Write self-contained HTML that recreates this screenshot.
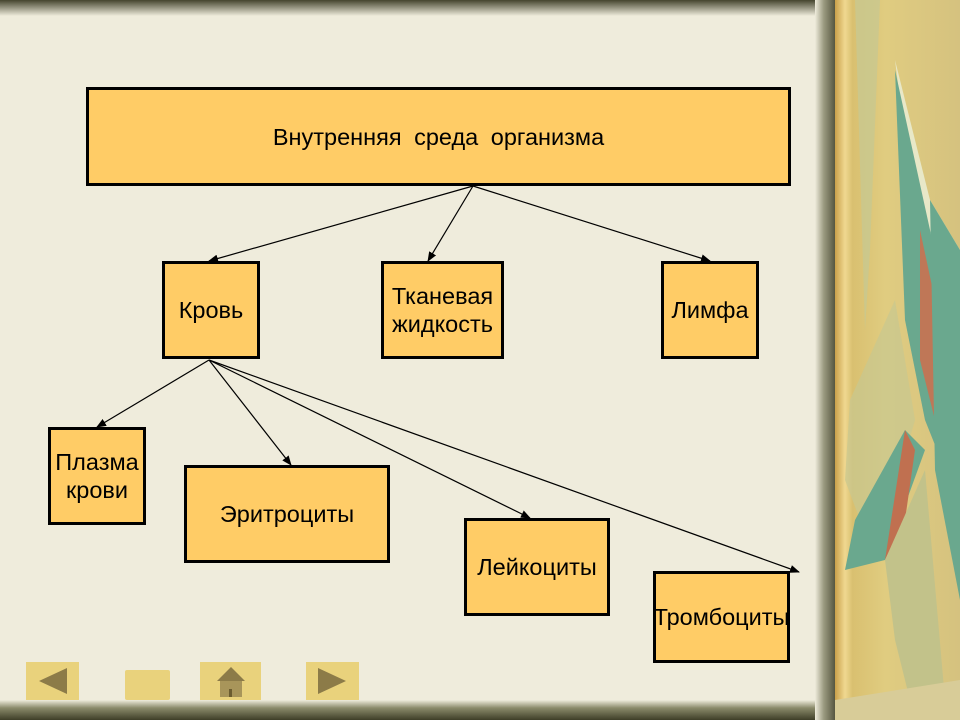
<!DOCTYPE html>
<html><head><meta charset="utf-8"><style>
body{margin:0;width:960px;height:720px;overflow:hidden;position:relative;background:#efecdc;font-family:"Liberation Sans",sans-serif}
.b{position:absolute;box-sizing:border-box;background:#ffcc66;border:3px solid #000;display:flex;align-items:center;justify-content:center;text-align:center;font-size:23.5px;line-height:28px;color:#000;white-space:nowrap}
.nav{position:absolute;background:#e9d27c}
</style></head><body>
<div style="position:absolute;left:0;top:0;width:835px;height:16px;background:linear-gradient(#45452e,#efecdc)"></div>
<div style="position:absolute;left:0;top:700px;width:835px;height:20px;background:linear-gradient(#efecdc,#8a8a6a 40%,#3e3e28)"></div>
<div style="position:absolute;left:815px;top:0;width:22px;height:720px;background:linear-gradient(90deg,#efecdc,#9a9a80 40%,#4a4a35)"></div>
<div style="position:absolute;left:835px;top:0;width:125px;height:720px;background:linear-gradient(90deg,#c9a04a,#f0d890 8%,#d9c070 14%,#e0cc80 40%,#d5c27f)"></div>
<svg style="position:absolute;left:835px;top:0" width="125" height="720">
<path d="M20 0 L45 0 L35 250 L30 330 Z" fill="#c8c890" opacity=".8"/>
<path d="M60 60 L70 140 L100 320 L125 380 L125 250 L95 200 Z" fill="#e8e8c8"/>
<path d="M60 70 L95 230 L120 350 L110 470 L90 420 L70 320 Z" fill="#6aa88e"/>
<path d="M85 230 L100 300 L100 420 L85 360 Z" fill="#d46a4a" opacity=".8"/>
<path d="M95 200 L125 250 L125 600 L100 470 Z" fill="#6aa88e"/>
<path d="M15 400 L60 300 L80 420 L40 560 L10 480 Z" fill="#c8c890" opacity=".7"/>
<path d="M20 520 L70 430 L90 450 L50 560 L10 570 Z" fill="#6aa88e"/>
<path d="M70 430 L80 450 L70 520 L50 560 Z" fill="#c07050"/>
<path d="M50 560 L90 470 L110 700 L80 720 L60 640 Z" fill="#c2c28a"/>
<path d="M0 700 L125 680 L125 720 L0 720 Z" fill="#d8cc98"/>
</svg>
<svg style="position:absolute;left:0;top:0" width="960" height="720">
<defs><marker id="a" markerWidth="10" markerHeight="8" refX="9" refY="4" orient="auto" markerUnits="userSpaceOnUse"><path d="M0 0 L10 4 L0 8 Z" fill="#000"/></marker></defs>
<g stroke="#000" stroke-width="1.2" marker-end="url(#a)">
<line x1="473" y1="186" x2="209" y2="261"/>
<line x1="473" y1="186" x2="428" y2="261"/>
<line x1="473" y1="186" x2="710" y2="261"/>
<line x1="209" y1="360" x2="97" y2="427"/>
<line x1="209" y1="360" x2="291" y2="465"/>
<line x1="209" y1="360" x2="530" y2="518"/>
<line x1="209" y1="360" x2="799" y2="572"/>
</g></svg>
<div class="b" style="left:86px;top:87px;width:705px;height:99px;word-spacing:6px">Внутренняя среда организма</div>
<div class="b" style="left:162px;top:261px;width:98px;height:98px">Кровь</div>
<div class="b" style="left:381px;top:261px;width:123px;height:98px">Тканевая<br>жидкость</div>
<div class="b" style="left:661px;top:261px;width:98px;height:98px">Лимфа</div>
<div class="b" style="left:48px;top:427px;width:98px;height:98px">Плазма<br>крови</div>
<div class="b" style="left:184px;top:465px;width:206px;height:98px">Эритроциты</div>
<div class="b" style="left:464px;top:518px;width:146px;height:98px">Лейкоциты</div>
<div class="b" style="left:653px;top:571px;width:137px;height:92px;overflow:visible">Тромбоциты</div>
<div class="nav" style="left:26px;top:662px;width:53px;height:38px"></div>
<svg style="position:absolute;left:26px;top:662px" width="53" height="38"><path d="M13 19 L41 6 L41 32 Z" fill="#8c7b48"/></svg>
<div class="nav" style="left:125px;top:670px;width:45px;height:30px;border-radius:2px"></div>
<div class="nav" style="left:200px;top:662px;width:61px;height:38px"></div>
<svg style="position:absolute;left:200px;top:662px" width="61" height="38"><path d="M17 19 L31 5 L45 19 Z" fill="#8c7b48"/><rect x="20" y="19" width="22" height="16" fill="#a8955a"/><rect x="29" y="27" width="3" height="8" fill="#6b5c30"/></svg>
<div class="nav" style="left:306px;top:662px;width:53px;height:38px"></div>
<svg style="position:absolute;left:306px;top:662px" width="53" height="38"><path d="M40 19 L12 6 L12 32 Z" fill="#8c7b48"/></svg>
</body></html>
